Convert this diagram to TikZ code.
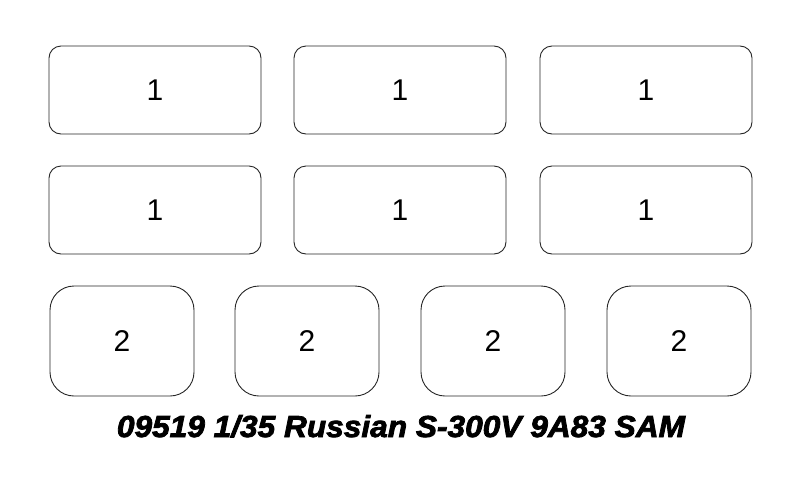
\documentclass[tikz,border=0pt]{standalone}
\usepackage{fontspec}
\setmainfont{Liberation Sans}
\newfontfamily\titlefont[FakeBold=2.5]{Liberation Sans Bold Italic}
\begin{document}
\begin{tikzpicture}[x=1pt,y=-1pt,
  wide/.style={draw=black!85,line width=0.9pt,rounded corners=12pt,minimum width=212pt,minimum height=88pt,inner sep=0pt,font=\fontsize{30}{32}\selectfont},
  squarish/.style={draw=black!85,line width=0.9pt,rounded corners=24pt,minimum width=144pt,minimum height=110pt,inner sep=0pt,font=\fontsize{30}{32}\selectfont}]
\useasboundingbox (0,0) rectangle (800,485);
\node[wide] (a1) at (155,90) {1};
\node[wide] (a2) at (400,90) {1};
\node[wide] (a3) at (646,90) {1};
\node[wide] (b1) at (155,210) {1};
\node[wide] (b2) at (400,210) {1};
\node[wide] (b3) at (646,210) {1};
\node[squarish] (c1) at (122,341) {2};
\node[squarish] (c2) at (307,341) {2};
\node[squarish] (c3) at (493,341) {2};
\node[squarish] (c4) at (679,341) {2};
\node[anchor=base,inner sep=0pt] (title) at (401,437) {\resizebox{568pt}{22pt}{\titlefont 09519 1/35 Russian S-300V 9A83 SAM}};
\end{tikzpicture}
\end{document}
